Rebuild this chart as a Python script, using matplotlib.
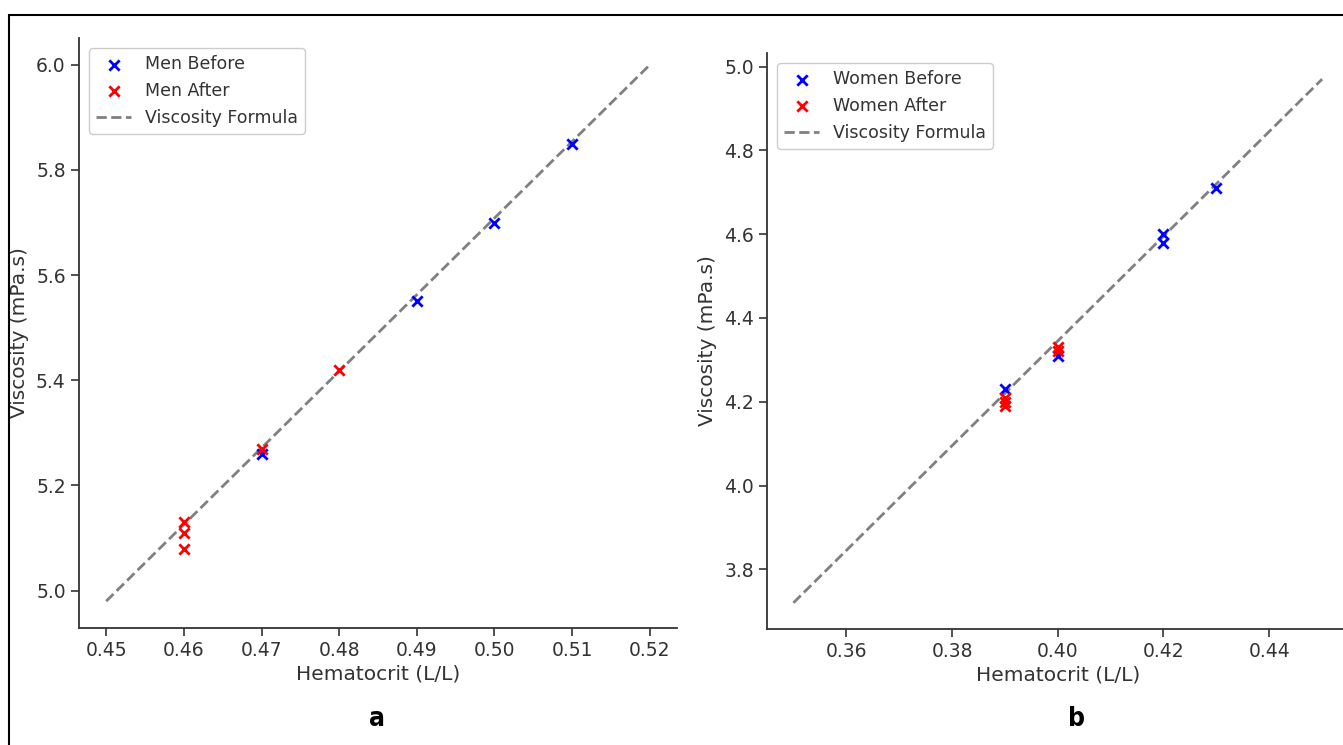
import matplotlib
matplotlib.use("Agg")
import matplotlib.pyplot as plt
from matplotlib.patches import Rectangle

# ---- data ----
men_before_hct = [0.47, 0.49, 0.50, 0.51]
men_before_visc = [5.26, 5.55, 5.70, 5.85]
men_after_hct = [0.46, 0.46, 0.46, 0.47, 0.48]
men_after_visc = [5.13, 5.11, 5.08, 5.27, 5.42]
men_formula_hct = [0.45, 0.52]
men_formula_visc = [4.98, 6.00]

women_before_hct = [0.39, 0.40, 0.42, 0.42, 0.43]
women_before_visc = [4.23, 4.31, 4.60, 4.58, 4.71]
women_after_hct = [0.39, 0.39, 0.39, 0.40, 0.40]
women_after_visc = [4.21, 4.20, 4.19, 4.33, 4.32]
women_formula_hct = [0.35, 0.45]
women_formula_visc = [3.72, 4.97]

men_xticks = [0.45, 0.46, 0.47, 0.48, 0.49, 0.50, 0.51, 0.52]
men_yticks = [5.0, 5.2, 5.4, 5.6, 5.8, 6.0]
women_xticks = [0.36, 0.38, 0.40, 0.42, 0.44]
women_yticks = [3.8, 4.0, 4.2, 4.4, 4.6, 4.8, 5.0]

TXT = "#333333"
plt.rcParams["font.family"] = ["DejaVu Sans"]

W, H = 1343, 745
fig = plt.figure(figsize=(W / 100, H / 100), dpi=100)

def px_axes(x0, x1, ytop, ybot):
    return fig.add_axes([x0 / W, (H - ybot) / H, (x1 - x0) / W, (ybot - ytop) / H])

ax1 = px_axes(79, 677, 38, 628)
ax2 = px_axes(767, 1348.5, 53, 629)

def style(ax, xticks, yticks, xfmt, yfmt):
    for s in ["top", "right"]:
        ax.spines[s].set_visible(False)
    for s in ["left", "bottom"]:
        ax.spines[s].set_color(TXT)
        ax.spines[s].set_linewidth(1.3)
    ax.set_xticks(xticks)
    ax.set_yticks(yticks)
    ax.set_xticklabels([xfmt.format(v) for v in xticks])
    ax.set_yticklabels([yfmt.format(v) for v in yticks])
    ax.tick_params(axis="both", direction="out", length=6, width=1.2,
                   colors=TXT, labelsize=13.5, labelcolor=TXT)
    ax.set_xlabel("Hematocrit (L/L)", fontsize=14.5, color=TXT, labelpad=3)
    ax.set_ylabel("Viscosity (mPa.s)", fontsize=14.5, color=TXT, labelpad=5)

# Men panel
ax1.scatter(men_before_hct, men_before_visc, marker="x", color="blue", s=55,
            linewidths=2, label="Men Before", zorder=3)
ax1.scatter(men_after_hct, men_after_visc, marker="x", color="red", s=55,
            linewidths=2, label="Men After", zorder=3)
ax1.plot(men_formula_hct, men_formula_visc, "--", color="gray", lw=2,
         label="Viscosity Formula", zorder=2)
style(ax1, men_xticks, men_yticks, "{:.2f}", "{:.1f}")
ax1.legend(loc="upper left", fontsize=12.5, labelcolor=TXT, framealpha=1,
           edgecolor="#cccccc", borderaxespad=0.6)

# Women panel
ax2.scatter(women_before_hct, women_before_visc, marker="x", color="blue", s=55,
            linewidths=2, label="Women Before", zorder=3)
ax2.scatter(women_after_hct, women_after_visc, marker="x", color="red", s=55,
            linewidths=2, label="Women After", zorder=3)
ax2.plot(women_formula_hct, women_formula_visc, "--", color="gray", lw=2,
         label="Viscosity Formula", zorder=2)
style(ax2, women_xticks, women_yticks, "{:.2f}", "{:.1f}")
ax2.legend(loc="upper left", fontsize=12.5, labelcolor=TXT, framealpha=1,
           edgecolor="#cccccc", borderaxespad=0.6)

# panel letters
for xpx, letter in [(377, "a"), (1077, "b")]:
    fig.text(xpx / W, 1 - 719 / H, letter, ha="center", va="center",
             fontsize=19, fontweight="bold", fontstretch="condensed",
             family=["DejaVu Sans"])

# figure border
fig.patches.append(Rectangle((9 / W, -0.05), 1.2, 1 - 15 / H + 0.05,
                             transform=fig.transFigure, fill=False,
                             edgecolor="black", linewidth=1.5, zorder=0))

fig.savefig("out.png", dpi=100)
